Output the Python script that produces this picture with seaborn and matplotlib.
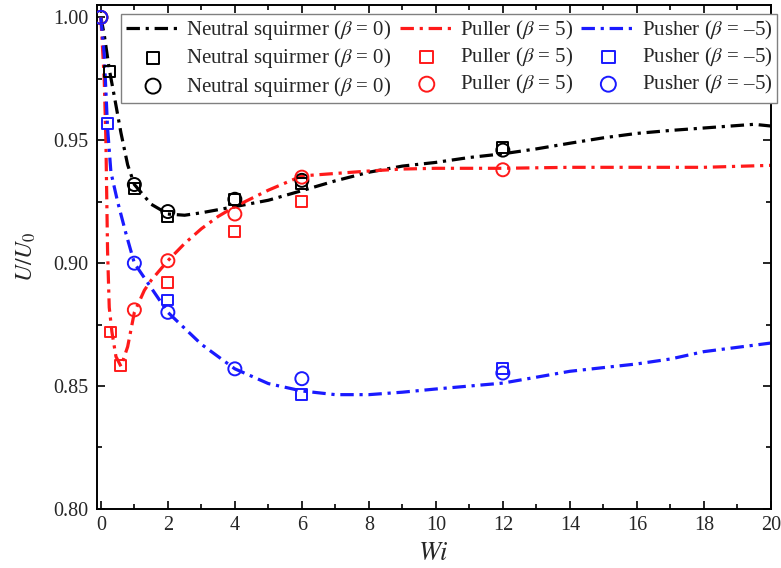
import matplotlib
matplotlib.use("Agg")
import matplotlib.pyplot as plt
from matplotlib.ticker import MultipleLocator
import seaborn as sns

# --- smooth fitted curves: U/U0 versus Wi ---
wi_neutral_fit = [0, 0.1, 0.25, 0.4, 0.6, 0.8, 1, 1.5, 2, 2.5, 3, 4, 5, 6, 7, 8, 9,
                  10, 11, 12, 13, 14, 15, 16, 17, 18, 19, 19.5, 20]
u_neutral_fit = [1.000, 0.993, 0.979, 0.968, 0.953, 0.940, 0.932, 0.924, 0.920,
                 0.9195, 0.9205, 0.923, 0.9256, 0.9295, 0.9335, 0.937, 0.9395,
                 0.941, 0.943, 0.9445, 0.9465, 0.9488, 0.951, 0.9528, 0.954,
                 0.955, 0.956, 0.9565, 0.9558]

wi_puller_fit = [0, 0.1, 0.15, 0.2, 0.25, 0.33, 0.45, 0.6, 0.8, 1, 1.3, 1.5, 2,
                 2.5, 3, 3.5, 4, 5, 6, 7, 8, 9, 10, 12, 14, 16, 18, 20]
u_puller_fit = [1.000, 0.975, 0.950, 0.905, 0.882, 0.872, 0.862, 0.858, 0.866,
                0.880, 0.889, 0.893, 0.901, 0.908, 0.914, 0.919, 0.923, 0.9297,
                0.9355, 0.9365, 0.9375, 0.9383, 0.9386, 0.9386, 0.939, 0.939,
                0.939, 0.9398]

wi_pusher_fit = [0, 0.1, 0.2, 0.3, 0.5, 0.75, 1, 1.5, 2, 3, 4, 5, 6, 7, 8, 9, 10,
                 12, 14, 16, 17, 18, 20]
u_pusher_fit = [1.000, 0.985, 0.955, 0.937, 0.925, 0.912, 0.900, 0.890, 0.880,
                0.867, 0.857, 0.851, 0.848, 0.8465, 0.8465, 0.8475, 0.8488,
                0.8512, 0.856, 0.859, 0.861, 0.864, 0.8675]

# --- simulation results (squares) ---
wi_neutral_sq = [0.25, 1, 2, 4, 6, 12]
u_neutral_sq = [0.978, 0.9305, 0.919, 0.926, 0.9325, 0.947]
wi_puller_sq = [0.3, 0.6, 2, 4, 6]
u_puller_sq = [0.872, 0.8585, 0.892, 0.913, 0.925]
wi_pusher_sq = [0.2, 2, 6, 12]
u_pusher_sq = [0.957, 0.885, 0.8465, 0.857]

# --- simulation results (circles) ---
wi_neutral_ci = [0, 1, 2, 4, 6, 12]
u_neutral_ci = [1.000, 0.932, 0.921, 0.926, 0.9337, 0.946]
wi_puller_ci = [0, 1, 2, 4, 6, 12]
u_puller_ci = [1.000, 0.881, 0.901, 0.920, 0.935, 0.938]
wi_pusher_ci = [0, 1, 2, 4, 6, 12]
u_pusher_ci = [1.000, 0.900, 0.880, 0.857, 0.853, 0.8553]

labels = [r"Neutral squirmer ($\beta$ = 0)", r"Puller ($\beta$ = 5)",
          r"Pusher ($\beta$ = –5)"]
colors = ["black", "#ff1a1a", "#1a1aff"]

sns.set_style("ticks")
plt.rcParams["font.family"] = ["Liberation Serif", "DejaVu Serif"]
plt.rcParams["mathtext.fontset"] = "stix"

fig = plt.figure(figsize=(7.81, 5.68), dpi=100)
ax = fig.add_axes([0.124, 0.104, 0.863, 0.887])

dash_dot = (0, (4.2, 1.8, 1.0, 1.8))
fits = [(wi_neutral_fit, u_neutral_fit), (wi_puller_fit, u_puller_fit),
        (wi_pusher_fit, u_pusher_fit)]
squares = [(wi_neutral_sq, u_neutral_sq), (wi_puller_sq, u_puller_sq),
           (wi_pusher_sq, u_pusher_sq)]
circles = [(wi_neutral_ci, u_neutral_ci), (wi_puller_ci, u_puller_ci),
           (wi_pusher_ci, u_pusher_ci)]

line_h, sq_h, ci_h = [], [], []
for (fx, fy), (sx, sy), (cx, cy), lab, col in zip(fits, squares, circles, labels, colors):
    sns.lineplot(x=fx, y=fy, ax=ax, color=col, lw=2.3, linestyle=dash_dot,
                 estimator=None, sort=False, label=lab)
    line_h.append(ax.lines[-1])
    sns.scatterplot(x=sx, y=sy, ax=ax, marker="s", s=62, fc="none", ec=col,
                    linewidth=1.4, label=lab, zorder=3)
    sq_h.append(ax.collections[-1])
    sns.scatterplot(x=cx, y=cy, ax=ax, marker="o", s=88, fc="none", ec=col,
                    linewidth=1.4, label=lab, zorder=3)
    ci_h.append(ax.collections[-1])

handles = []
for i in range(3):
    handles += [line_h[i], sq_h[i], ci_h[i]]
leg_labels = []
for lab in labels:
    leg_labels += [lab] * 3
leg = ax.legend(handles, leg_labels, ncol=3, loc="upper right",
                bbox_to_anchor=(1.009, 0.983), borderaxespad=0, fancybox=False,
                framealpha=1, edgecolor="#808080", fontsize=15,
                handlelength=2.6, handletextpad=0.3, columnspacing=0.38,
                labelspacing=0.2, borderpad=0.22, markerscale=1.15)
leg.get_frame().set_linewidth(1.0)

ax.set_xlim(-0.12, 20)
ax.set_ylim(0.80, 1.005)
ax.xaxis.set_major_locator(MultipleLocator(2))
ax.xaxis.set_minor_locator(MultipleLocator(1))
ax.yaxis.set_major_locator(MultipleLocator(0.05))
ax.yaxis.set_minor_locator(MultipleLocator(0.025))
ax.yaxis.set_major_formatter(matplotlib.ticker.FormatStrFormatter("%.2f"))
ax.tick_params(which="both", direction="in", top=True, right=True,
               labelsize=14.5, color="black", width=1.2)
ax.tick_params(which="major", length=6)
ax.tick_params(which="minor", length=3.5)
ax.tick_params(axis="y", pad=6)
ax.tick_params(axis="x", pad=5)
for sp in ax.spines.values():
    sp.set_visible(True)
    sp.set_linewidth(1.4)
    sp.set_color("black")

ax.set_xlabel(r"$Wi$", fontsize=19, labelpad=6)
ax.set_ylabel(r"$U/U_0$", fontsize=17, labelpad=11)

fig.savefig("out.png", dpi=100, facecolor="white")
